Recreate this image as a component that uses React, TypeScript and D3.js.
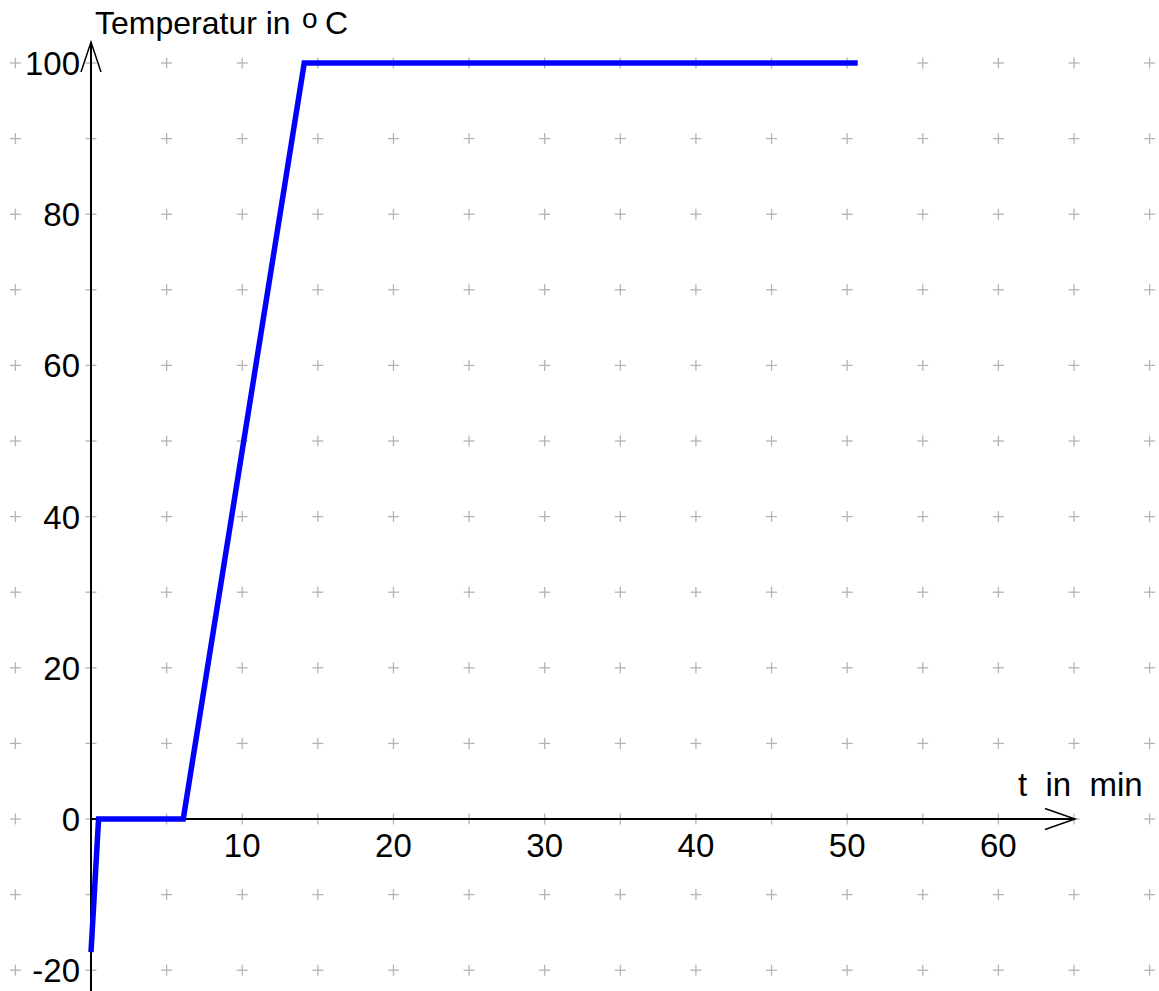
import React from "react";
import * as d3 from "d3";

const times = [0, 0.5, 6.1, 14.1, 50.7];
const temps = [-17.6, 0, 0, 100, 100];
const xTickValues = [10, 20, 30, 40, 50, 60];
const yTickValues = [-20, 0, 20, 40, 60, 80, 100];
const xGridValues = d3.range(-5, 71, 5);
const yGridValues = d3.range(-20, 101, 10);
const yTitle = "Temperatur in";
const xTitle = "t  in  min";

const W = 1159;
const H = 991;
const FONT = "'Liberation Sans', Arial, Helvetica, sans-serif";

export default function App() {
  const x = d3.scaleLinear().domain([0, 65]).range([91, 1074]);
  const y = d3.scaleLinear().domain([0, 100]).range([819, 63]);
  const pts: [number, number][] = times.map((t, i) => [t, temps[i]]);
  const line = d3
    .line<[number, number]>()
    .x((d) => x(d[0]))
    .y((d) => y(d[1]));

  const x0 = x(0);
  const y0 = y(0);
  const cs = 5.5;

  return (
    <div style={{ position: "absolute", left: 0, top: 0, width: W, height: H }}>
      <svg width={W} height={H} style={{ display: "block", background: "#fff" }}>
        <g stroke="#b4b4b4" strokeWidth={1.3}>
          {xGridValues.map((gx) =>
            yGridValues.map((gy) => (
              <g key={`${gx}_${gy}`}>
                <line x1={x(gx) - cs} x2={x(gx) + cs} y1={y(gy)} y2={y(gy)} />
                <line x1={x(gx)} x2={x(gx)} y1={y(gy) - cs} y2={y(gy) + cs} />
              </g>
            ))
          )}
        </g>
        {/* axes */}
        <g stroke="#000" fill="none">
          <line x1={x0} x2={x0} y1={42} y2={H} strokeWidth={2} />
          <polyline points={`${x0 - 10},72 ${x0},42 ${x0 + 10},72`} strokeWidth={1.5} />
          <line x1={x0} x2={1075} y1={y0} y2={y0} strokeWidth={2} />
          <polyline
            points={`1045,${y0 - 10.5} 1075,${y0} 1045,${y0 + 10.5}`}
            strokeWidth={1.5}
          />
        </g>
        {/* data line */}
        <path
          d={line(pts) || ""}
          fill="none"
          stroke="#0000ff"
          strokeWidth={5.5}
          strokeLinejoin="miter"
          strokeLinecap="butt"
        />
        {/* tick labels */}
        <g fontFamily={FONT} fontSize={33} fill="#000">
          {xTickValues.map((v) => (
            <text key={v} x={x(v)} y={857} textAnchor="middle">
              {v}
            </text>
          ))}
          {yTickValues.map((v) => (
            <text key={v} x={80} y={y(v) + 12} textAnchor="end">
              {v}
            </text>
          ))}
          <text x={95} y={34} fontSize={32}>
            {yTitle}
            <tspan x={302} dy={-6} fontSize={28}>
              o
            </tspan>
            <tspan x={325} dy={6}>C</tspan>
          </text>
          <text x={1018} y={796} style={{ whiteSpace: "pre" }}>
            {xTitle}
          </text>
        </g>
      </svg>
    </div>
  );
}
